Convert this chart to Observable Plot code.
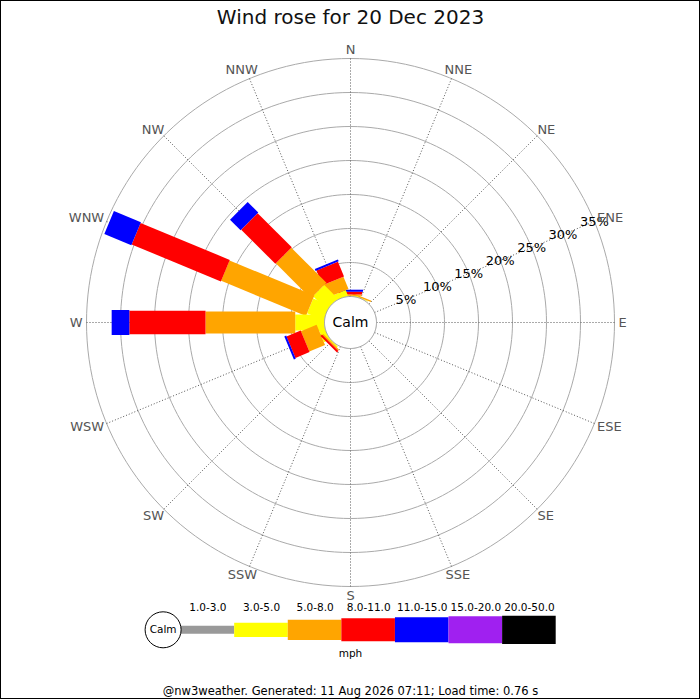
<!DOCTYPE html>
<html>
<head>
<meta charset="utf-8">
<script src="https://cdn.jsdelivr.net/npm/d3@7"></script>
<script src="https://cdn.jsdelivr.net/npm/@observablehq/plot@0.6"></script>
<style>
  body { margin: 0; background: #fff; }
  #wrap { position: relative; width: 700px; height: 700px; overflow: hidden; font-family: "DejaVu Sans", sans-serif; background: #fff; }
  #wrap svg { position: absolute; left: 0; }
  #frame { position: absolute; left: 0; top: 0; width: 700px; height: 699px; box-sizing: border-box; border: 1px solid #000; pointer-events: none; }
</style>
</head>
<body>
<div id="wrap"><div id="frame"></div></div>
<script>
// ---------- data ----------
const title = "Wind rose for 20 Dec 2023";
const directions = ["N","NNE","NE","ENE","E","ESE","SE","SSE","S","SSW","SW","WSW","W","WNW","NW","NNW"];
const speedClasses = ["1.0-3.0","3.0-5.0","5.0-8.0","8.0-11.0","11.0-15.0","15.0-20.0","20.0-50.0"];
const speedUnit = "mph";
// percent of time per direction (N .. NNW) for each speed class
const pct1to3   = [0,0,0,0,0,0,0,0,0,0,0,0,0,0,0,0];
const pct3to5   = [0.1,0.1,0,0,0,0,0,0,0,0,0.2,0.9,4.3,2.6,2.8,0.85];
const pct5to8   = [0.2,0.2,0,0,0,0,0,0,0,0,0.2,2.5,13.2,13.5,7.3,1.95];
const pct8to11  = [0.4,0,0,0,0,0,0,0,0,0,0.3,2.25,11.2,14.2,7.1,2.35];
const pct11to15 = [0.3,0,0,0,0,0,0,0,0,0,0,0.3,2.6,4.3,2.2,0.3];
const pct15to20 = [0,0,0,0,0,0,0,0,0,0,0,0,0,0,0,0];
const pct20to50 = [0,0,0,0,0,0,0,0,0,0,0,0,0,0,0,0];
const ringTicks = [5,10,15,20,25,30,35];
const footer = "@nw3weather. Generated: 11 Aug 2026 07:11; Load time: 0.76 s";

// ---------- styles ----------
const classColors = ["#999999","#ffff00","#ffa500","#ff0000","#0000ff","#a020f0","#000000"];
const roseWidths = [8, 16, 22, 23.3, 25, 27, 28];
const legendHeights = [8, 14.3, 20.3, 23, 25, 27, 28.3];
const series = [pct1to3, pct3to5, pct5to8, pct8to11, pct11to15, pct15to20, pct20to50];

const W = 700, H = 700, cx = 350, cy = 322;
const k = 6.8;            // px per percent
const calmPx = 26;        // calm circle radius in px
const c = calmPx / k;     // calm radius in data units
const rad = d => d * Math.PI / 180;
const maxTick = d3.max(ringTicks);

// drawing order: from E counter-clockwise
const order = d3.range(16).map(j => (4 - j + 16) % 16);

const segs = [];
for (const i of order) {
  const th = rad(i * 22.5);
  let cum = c;
  series.forEach((arr, s) => {
    const v = arr[i];
    if (v > 0) {
      segs.push({
        x1: cum * Math.sin(th), y1: cum * Math.cos(th),
        x2: (cum + v) * Math.sin(th), y2: (cum + v) * Math.cos(th),
        color: classColors[s], w: roseWidths[s]
      });
      cum += v;
    }
  });
}

const circlePts = (r, key) => d3.range(0, 360, 2).map(a => ({x: r * Math.sin(rad(a)), y: r * Math.cos(rad(a)), key}));
const ringPts = ringTicks.flatMap(t => circlePts(c + t, t));
const calmPts = circlePts(c, "calm");

const spokes = directions.map((d, i) => {
  const th = rad(i * 22.5);
  return {x1: c * Math.sin(th), y1: c * Math.cos(th), x2: (c + maxTick) * Math.sin(th), y2: (c + maxTick) * Math.cos(th)};
});

const labelFont = 13;
const charW = {N: 0.75, E: 0.63, S: 0.63, W: 0.99};
const labelPx = 268;
const compass = directions.map((d, i) => {
  const th = rad(i * 22.5);
  const w = d.split("").reduce((a, ch) => a + charW[ch], 0) * labelFont;
  return {
    text: d,
    x: (labelPx * Math.sin(th) + Math.sin(th) * w / 2) / k,
    y: (labelPx * Math.cos(th) + Math.cos(th) * 5) / k
  };
});

const tickAngle = rad(67.5);
const tickLabels = ringTicks.map(t => ({text: t + "%", x: (c + t) * Math.sin(tickAngle), y: (c + t) * Math.cos(tickAngle)}));

const main = Plot.plot({
  width: W, height: H, margin: 0,
  x: {domain: [-cx / k, (W - cx) / k], range: [0, W], axis: null},
  y: {domain: [-(H - cy) / k, cy / k], range: [H, 0], axis: null},
  color: {type: "identity"},
  style: {background: "transparent", fontFamily: "DejaVu Sans, sans-serif"},
  marks: [
    Plot.line(ringPts, {x: "x", y: "y", z: "key", stroke: "#aaaaaa", strokeWidth: 1, curve: "linear-closed"}),
    Plot.link(spokes, {x1: "x1", y1: "y1", x2: "x2", y2: "y2", stroke: "#555555", strokeWidth: 1, strokeDasharray: "1,2"}),
    Plot.link(segs, {x1: "x1", y1: "y1", x2: "x2", y2: "y2", stroke: d => d.color, strokeWidth: d => d.w, strokeLinecap: "butt"}),
    Plot.line(calmPts, {x: "x", y: "y", fill: "white", stroke: "#999999", strokeWidth: 1, curve: "linear-closed"}),
    Plot.text(["Calm"], {x: () => 0, y: () => 0, text: d => d, fontSize: 14, fill: "#000"}),
    Plot.text(tickLabels, {x: "x", y: "y", text: "text", fontSize: 13, fill: "#000"}),
    Plot.text(compass, {x: "x", y: "y", text: "text", fontSize: labelFont, fill: "#555555"}),
    Plot.text([title], {frameAnchor: "top", lineAnchor: "middle", dy: 17, text: d => d, fontSize: 20, fill: "#111"})
  ]
});
main.style.top = "0px";

const legendRows = speedClasses.map((s, i) => ({i, label: s, color: classColors[i], h: legendHeights[i]}));
const bandPx = (555.7 - 180.6) / speedClasses.length;
const legendCalmR = 18;
const legend = Plot.plot({
  width: W, height: 110, margin: 0,
  x: {domain: [0, speedClasses.length], range: [180.6, 555.7], axis: null},
  y: {domain: [-1, 1], range: [78.6, 0], axis: null},
  color: {type: "identity"},
  style: {background: "transparent", fontFamily: "DejaVu Sans, sans-serif", overflow: "visible"},
  marks: [
    Plot.ruleY(legendRows, {y: 0, x1: "i", x2: d => d.i + 1, stroke: d => d.color, strokeWidth: d => d.h}),
    Plot.dot(["Calm"], {x: () => -legendCalmR / bandPx, y: () => 0, r: legendCalmR, fill: "white", stroke: "#000", strokeWidth: 1}),
    Plot.text(["Calm"], {x: () => -legendCalmR / bandPx, y: () => 0, text: d => d, fontSize: 10.5, fill: "#000"}),
    Plot.text(legendRows, {x: d => d.i + 0.5, frameAnchor: "top", lineAnchor: "middle", dy: 17, text: "label", fontSize: 10.5, fill: "#000"}),
    Plot.text([speedUnit], {frameAnchor: "top", lineAnchor: "middle", dy: 63, text: d => d, fontSize: 10.5, fill: "#000"}),
    Plot.text([footer], {frameAnchor: "top", lineAnchor: "middle", dy: 101, text: d => d, fontSize: 11.5, fill: "#000"})
  ]
});
legend.style.top = "590px";

const wrap = document.getElementById("wrap");
wrap.insertBefore(main, wrap.firstChild);
wrap.insertBefore(legend, document.getElementById("frame"));
</script>
</body>
</html>
